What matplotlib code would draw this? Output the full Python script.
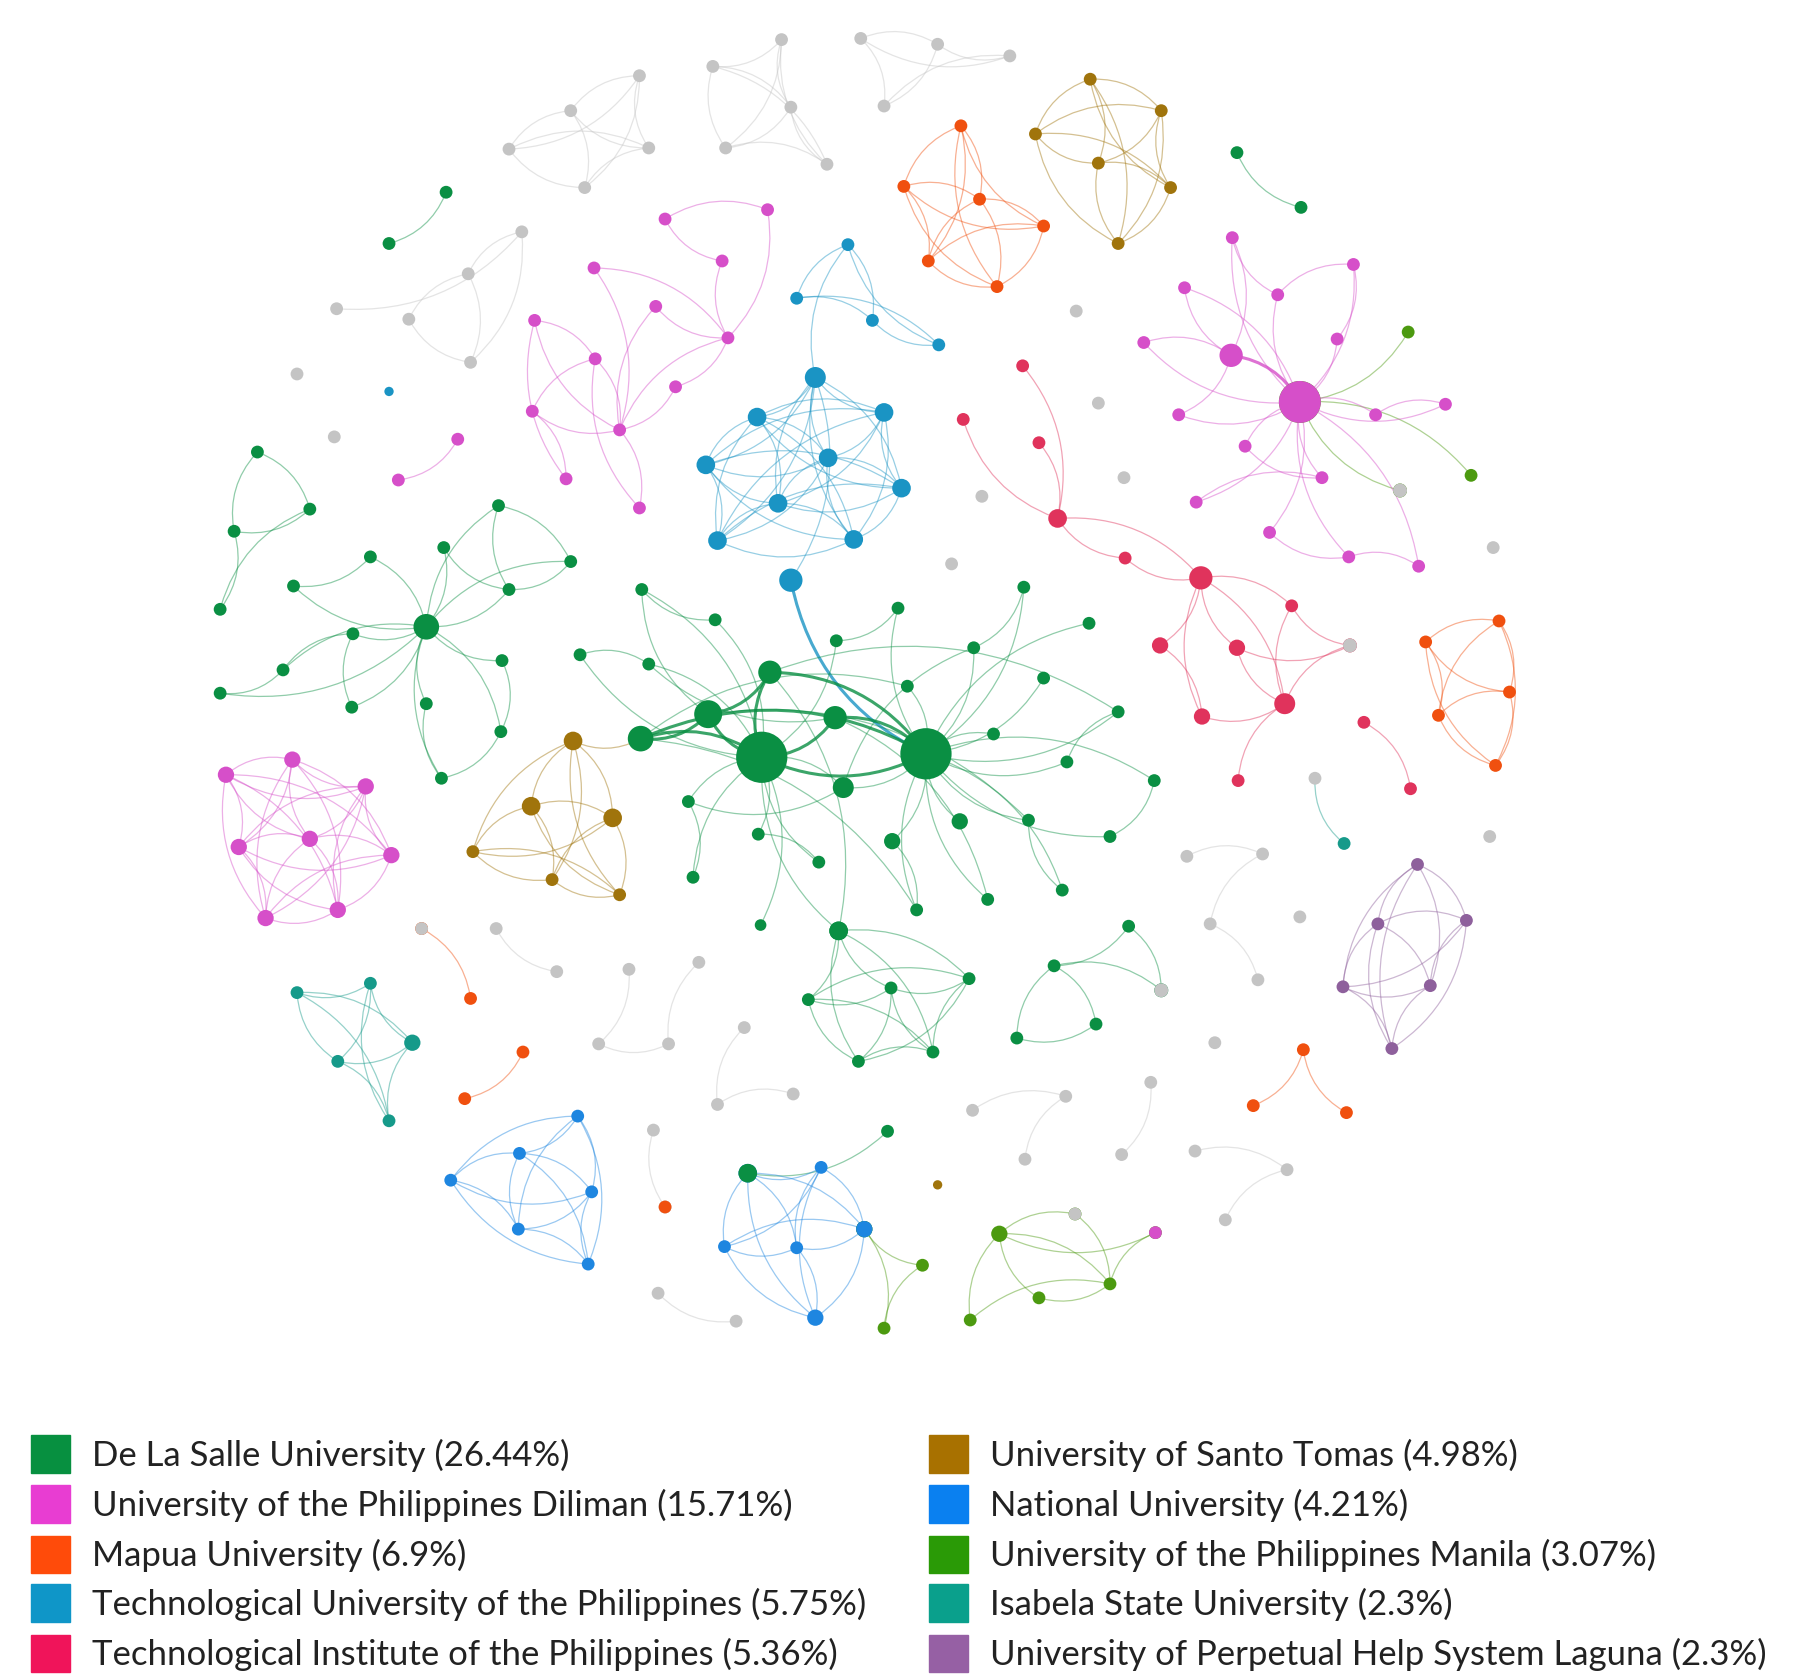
import matplotlib.pyplot as plt
from matplotlib.patches import FancyArrowPatch, Rectangle
from itertools import combinations

# colours per affiliation
colors = {
    'DLSU': '#0a8f43', 'UPD': '#d64fc9', 'MAPUA': '#f0500f', 'TUP': '#1a94c4',
    'TIP': '#e0335c', 'UST': '#a0740c', 'NU': '#1e86e0', 'UPM': '#4c9a10',
    'ISU': '#169a8a', 'UPHSL': '#8e609c', 'OTHER': '#c4c4c4',
}

legend_labels = [
    ('DLSU', 'De La Salle University (26.44%)'),
    ('UPD', 'University of the Philippines Diliman (15.71%)'),
    ('MAPUA', 'Mapua University (6.9%)'),
    ('TUP', 'Technological University of the Philippines (5.75%)'),
    ('TIP', 'Technological Institute of the Philippines (5.36%)'),
    ('UST', 'University of Santo Tomas (4.98%)'),
    ('NU', 'National University (4.21%)'),
    ('UPM', 'University of the Philippines Manila (3.07%)'),
    ('ISU', 'Isabela State University (2.3%)'),
    ('UPHSL', 'University of Perpetual Help System Laguna (2.3%)'),
]
legend_colors = {'DLSU': '#079040', 'UPD': '#e83dd2', 'MAPUA': '#ff4b0a', 'TUP': '#0f96c8',
                 'TIP': '#f0145a', 'UST': '#a87100', 'NU': '#0a80f0', 'UPM': '#2a9a06',
                 'ISU': '#0aa08c', 'UPHSL': '#9660a4'}

# clusters: nodes (x, y, radius), edges (index pairs, "all" = complete), group, draw nodes?
clusters = []
def cl(nodes, edges, group, draw=True):
    clusters.append((nodes, edges, group, draw))

cl([(437,128),(490,95),(549,65),(557,127),(502,161)], 'all', 'OTHER')
cl([(612,57),(671,34),(679,92),(623,127),(710,141)], 'all', 'OTHER')
cl([(739,33),(805,38),(867,48),(759,91)], 'all', 'OTHER')
cl([(825,108),(776,160),(841,171),(896,194),(797,224),(856,246)], 'all', 'MAPUA')
cl([(936,68),(997,95),(889,115),(943,140),(1005,161),(960,209)], 'all', 'UST')
cl([(1062,131),(1117,178)], [(0,1)], 'DLSU')
cl([(383,165),(334,209)], [(0,1)], 'DLSU')
cl([(448,199),(402,235),(289,265),(351,274),(404,311)], [(0,1),(0,2),(1,3),(1,4),(3,4),(0,4)], 'OTHER')
cl([(571,188),(659,180),(620,224),(510,230),(563,263),(625,290),(459,275),(511,308),(580,332),(457,353),(532,369),(486,411),(549,436)],
   [(0,1),(0,2),(1,5),(2,5),(3,5),(4,5),(5,8),(5,10),(3,10),(6,10),(7,10),(9,10),(6,7),(7,9),(9,11),(6,11),(10,12),(7,12),(8,10),(4,10)], 'UPD')
cl([(728,210),(684,256),(749,275),(806,296)], [(0,1),(0,2),(0,3),(1,2),(2,3),(1,3)], 'TUP')
cl([(700,324,9),(650,358,8),(759,354,8),(606,399,8),(711,393,8),(774,419,8),(668,432,8),(616,464,8),(733,463,8)], 'all', 'TUP')
cl([(679,498,10),(700,324,9),(728,210)], [(0,1),(1,2)], 'TUP', False)
cl([(679,498,10)], [], 'TUP')
for p in [(924,267),(255,321),(287,375),(943,346),(965,410),(843,426),(1282,470),(1279,718),(1116,787),(1043,895),(817,484),(1129,668)]:
    cl([p], [], 'OTHER')
cl([(334,336,4)], [], 'TUP')
cl([(393,377),(342,412)], [(0,1)], 'UPD')
cl([(1116,345,18),(1209,285),(1263,408),(1202,421,6)], [(0,1),(0,2),(0,3)], 'UPM')
cl([(1202,421,6)], [], 'OTHER')
cl([(1116,345,18),(1057,305,10),(1058,204),(1017,247),(1097,253),(1162,227),(982,294),(1148,291),(1012,356),(1069,383),
    (1181,356),(1241,347),(1027,431),(1135,410),(1090,457),(1158,478),(1218,486)],
   [(0,i) for i in range(1,17)] + [(1,2),(1,3),(1,6),(1,8),(2,4),(4,5),(7,5),(12,13),(14,15),(15,16),(9,13),(10,11)], 'UPD')
cl([(878,314),(827,360),(892,380),(908,445,8),(966,479),(1031,496,10),(1109,520),(996,554,7),(1062,556,7),(1103,604,9),
    (1032,615,7),(1063,670),(1171,620),(1211,677),(1159,554,6)],
   [(0,3),(1,3),(2,3),(3,4),(3,5),(4,5),(5,7),(5,8),(5,9),(5,10),(5,6),(6,9),(7,10),(8,9),(9,10),(9,11),(12,13),(6,14),(9,14),(8,14)], 'TIP')
cl([(1159,554,6)], [], 'OTHER')
cl([(1224,551),(1287,533),(1296,594),(1235,614),(1284,657)], 'all', 'MAPUA')
cl([(221,388),(201,456),(266,437),(189,523)], [(0,1),(0,2),(1,2),(1,3),(2,3)], 'DLSU')
cl([(366,538,11),(428,434),(381,470),(490,482),(318,478),(252,503),(437,506),(303,544),(243,575),(189,595),
    (431,567),(302,607),(366,604),(430,628),(379,668)],
   [(0,i) for i in range(1,15)] + [(1,3),(2,6),(4,5),(7,8),(8,9),(7,11),(10,13),(12,14),(13,14),(1,6),(3,6)], 'DLSU')
cl([(679,498,10),(795,647,22)], [(0,1)], 'TUP', False)
cl([(550,634,11),(492,636,8)], [(0,1)], 'UST', False)
hubs = [(654,650,22),(795,647,22),(608,613,12),(550,634,11),(661,577,10),(717,616,10),(724,676,9)]
spokes = [(551,506),(614,532),(498,562),(557,570),(718,550),(771,522),(779,589),(879,504),(935,535),(836,556),(896,582),
          (853,630),(960,611),(916,654),(991,670),(883,704),(953,718),(912,764),(848,772),(824,705,7),(766,722,7),(787,781),
          (703,740),(651,716),(591,688),(595,753),(653,794,5),(720,799,8)]
hub_edges = [(0,1),(0,2),(0,3),(0,4),(0,5),(0,6),(1,5),(1,6),(1,4),(2,3),(2,4),(3,1)]
spoke_edges = []
for j in range(len(spokes)):
    k = 7 + j
    spoke_edges.append((0 if spokes[j][0] < 740 else 1, k))
    if j % 3 == 0:
        spoke_edges.append((2 + j % 5, k))
cl(hubs + spokes, hub_edges + spoke_edges + [(7,8),(9,10),(11,12),(14,16),(19,20),(21,23),(22,24),(27,28),(29,30),(31,32)], 'DLSU')
cl([(720,799,8),(694,858),(765,848),(832,840),(737,911),(801,903)], 'all', 'DLSU')
cl([(905,829),(969,795),(997,850,6),(873,891),(941,879)], [(0,1),(1,2),(0,3),(0,4),(3,4),(0,2)], 'DLSU')
cl([(997,850,6)], [], 'OTHER')
cl([(492,636,8),(456,692,8),(526,702,8),(406,731),(474,755),(532,768)], 'all', 'UST')
cl([(194,665,7),(251,652,7),(314,675,7),(205,727,7),(266,720,7),(336,734,7),(228,788,7),(290,781,7)], 'all', 'UPD')
cl([(255,852),(318,844),(354,895,7),(290,911),(334,962)], 'all', 'ISU')
cl([(362,797),(404,857)], [(0,1)], 'MAPUA')
cl([(362,797)], [], 'OTHER')
cl([(449,903),(399,943)], [(0,1)], 'MAPUA')
for grp in [[(426,797),(478,834)], [(540,832),(514,896),(574,896),(600,826)], [(639,882),(616,948),(681,939)],
            [(835,953),(915,941),(880,995)], [(963,991),(988,929)], [(1026,988),(1105,1004),(1052,1047)],
            [(565,1110),(632,1134)], [(1019,735),(1084,733),(1039,793),(1080,841)], [(561,970),(571,1036)]]:
    cl(grp, [(i, i + 1) for i in range(len(grp) - 1)], 'OTHER')
cl([(571,1036)], [], 'MAPUA')
cl([(1129,668),(1154,724)], [(0,1)], 'ISU', False)
cl([(1154,724)], [], 'ISU')
cl([(1217,742),(1183,793),(1259,790),(1153,847),(1228,846),(1195,900)], 'all', 'UPHSL')
cl([(1119,901),(1076,949),(1156,955)], [(0,1),(0,2)], 'MAPUA')
cl([(805,1017,4)], [], 'UST')
cl([(496,958),(446,990),(387,1013),(508,1023),(445,1055),(505,1085)], 'all', 'NU')
cl([(642,1007,8),(762,971)], [(0,1)], 'DLSU', False)
cl([(705,1002),(622,1070),(684,1071),(742,1055,7),(700,1131,7),(642,1007,8)], 'all', 'NU')
cl([(742,1055,7),(792,1086),(759,1140)], [(0,1),(0,2),(1,2)], 'UPM')
cl([(742,1055,7)], [], 'NU')
cl([(642,1007,8),(762,971)], [], 'DLSU')
cl([(858,1059,7),(923,1042),(892,1114),(953,1102),(833,1133),(992,1058)], [(0,1),(0,2),(0,3),(0,4),(1,3),(2,3),(4,3),(0,5),(3,5)], 'UPM')
cl([(923,1042)], [], 'OTHER')
cl([(992,1058)], [], 'UPD')

W, H = 1560, 1442
fig = plt.figure(figsize=(18.17, 16.8), dpi=100)
ax = fig.add_axes([0, 0, 1, 1])
ax.set_xlim(0, W)
ax.set_ylim(H, 0)
ax.axis('off')

k = 1817 / W * 0.72  # display px -> points
for ci, (nodes, edges, group, draw) in enumerate(clusters):
    col = colors[group]
    if edges == 'all':
        edges = list(combinations(range(len(nodes)), 2))
    for ei, (a, b) in enumerate(edges):
        p, q = nodes[a], nodes[b]
        big = len(p) > 2 and len(q) > 2 and p[2] >= 10 and q[2] >= 10
        rad = 0.25 if (ei + ci) % 2 else -0.25
        ax.add_patch(FancyArrowPatch(p[:2], q[:2], arrowstyle='-', connectionstyle=f'arc3,rad={rad}',
                                     color=col, lw=2.2 if big else 0.9, alpha=0.8 if big else 0.45, zorder=1))
    if not draw:
        continue
    xs = [n[0] for n in nodes]
    ys = [n[1] for n in nodes]
    rs = [n[2] if len(n) > 2 else 5.5 for n in nodes]
    ax.scatter(xs, ys, s=[(2 * r * k) ** 2 for r in rs], color=col, edgecolors='none', zorder=3)

rows = [1248, 1291, 1334, 1376, 1419]
for i, (key, label) in enumerate(legend_labels):
    x0 = 27 if i < 5 else 798
    y0 = rows[i % 5]
    ax.add_patch(Rectangle((x0, y0 - 16), 33, 32, color=legend_colors[key], zorder=4))
    ax.text(x0 + 52, y0 + 1, label, fontsize=25, family=['Lato', 'DejaVu Sans'], va='center', color='#222222')

fig.savefig('out.png', dpi=100)
